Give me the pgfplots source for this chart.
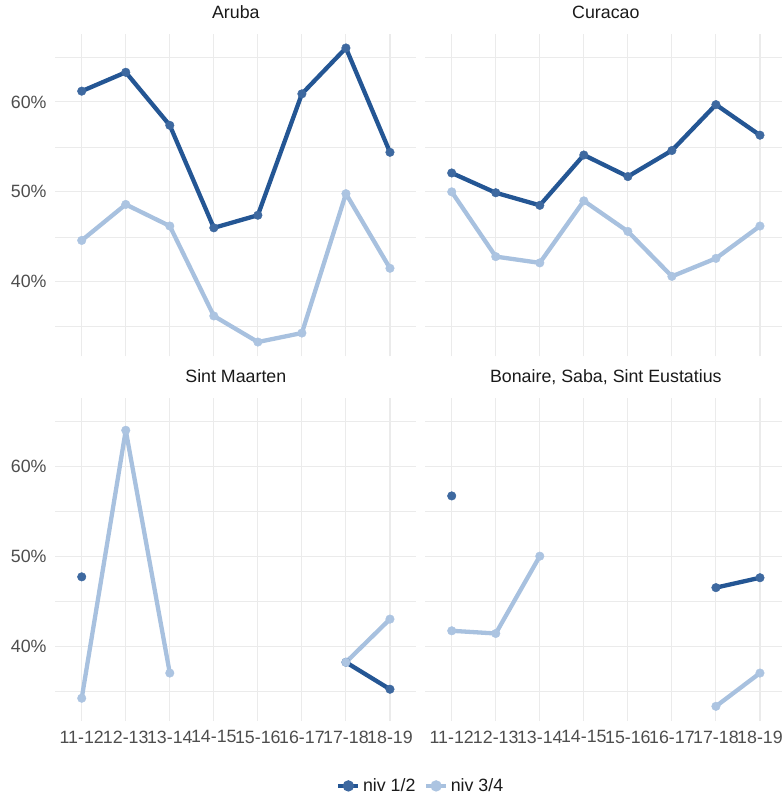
\documentclass[border=0pt]{standalone}
\usepackage{fontspec}
\setmainfont{Liberation Sans}
\usepackage{pgfplots}
\pgfplotsset{compat=1.18}
\definecolor{dk}{RGB}{36,86,148}
\definecolor{lt}{RGB}{168,193,223}
\definecolor{dkp}{RGB}{62,105,160}
\definecolor{ltp}{RGB}{172,196,225}
\definecolor{gridc}{RGB}{235,235,235}
\definecolor{txt}{RGB}{77,77,77}
\definecolor{ttl}{RGB}{26,26,26}
\newcommand\tf{\fontsize{17.8}{21}\selectfont}
\pgfplotsset{
  facet/.style={
    scale only axis, width=361.1pt, height=322.8pt,
    xmin=0.4, xmax=8.6, ymin=31.7, ymax=67.6,
    axis line style={draw=none}, major tick length=0pt, minor tick length=0pt,
    xtick={1,2,3,4,5,6,7,8}, ytick={40,50,60}, minor ytick={35,45,55,65},
    grid=both,
    major grid style={gridc, line width=1.1pt},
    minor grid style={gridc, line width=0.6pt},
    xticklabels={}, yticklabels={},
    unbounded coords=jump,
    title style={font=\tf, text=ttl, anchor=base, at={(0.5,1)}, yshift=9pt, inner sep=0pt},
    tick label style={font=\tf, text=txt},
    yticklabel style={anchor=east, inner sep=0pt, xshift=-8.6pt},
    xticklabel style={anchor=north, inner sep=0pt, yshift=-9.8pt},
    /pgf/number format/assume math mode=true,
  },
  dkline/.style={color=dk, line width=4.3pt, no markers, line join=round, forget plot},
  ltline/.style={color=lt, line width=4.3pt, no markers, line join=round, forget plot},
  dkpt/.style={only marks, mark=*, color=dkp, mark size=4.3pt, forget plot},
  ltpt/.style={only marks, mark=*, color=ltp, mark size=4.3pt, forget plot},
  withx/.style={xticklabels={11-12,12-13,13-14,14-15,15-16,16-17,17-18,18-19}},
  withy/.style={yticklabels={40\%,50\%,60\%}},
}
\begin{document}
\begin{tikzpicture}
% Aruba
\begin{axis}[facet, withy, at={(55.3pt,-356.4pt)}, anchor=south west, title={Aruba}]
\addplot[dkline] coordinates {(1,61.2) (2,63.3) (3,57.4) (4,46.0) (5,47.4) (6,60.9) (7,66.0) (8,54.4)};
\addplot[ltline] coordinates {(1,44.6) (2,48.6) (3,46.2) (4,36.2) (5,33.3) (6,34.3) (7,49.8) (8,41.5)};
\addplot[dkpt] coordinates {(1,61.2) (2,63.3) (3,57.4) (4,46.0) (5,47.4) (6,60.9) (7,66.0) (8,54.4)};
\addplot[ltpt] coordinates {(1,44.6) (2,48.6) (3,46.2) (4,36.2) (5,33.3) (6,34.3) (7,49.8) (8,41.5)};
\end{axis}
% Curacao
\begin{axis}[facet, at={(425.3pt,-356.4pt)}, anchor=south west, title={Curacao}]
\addplot[dkline] coordinates {(1,52.1) (2,49.9) (3,48.5) (4,54.1) (5,51.7) (6,54.6) (7,59.7) (8,56.3)};
\addplot[ltline] coordinates {(1,50.0) (2,42.8) (3,42.1) (4,49.0) (5,45.6) (6,40.6) (7,42.6) (8,46.2)};
\addplot[dkpt] coordinates {(1,52.1) (2,49.9) (3,48.5) (4,54.1) (5,51.7) (6,54.6) (7,59.7) (8,56.3)};
\addplot[ltpt] coordinates {(1,50.0) (2,42.8) (3,42.1) (4,49.0) (5,45.6) (6,40.6) (7,42.6) (8,46.2)};
\end{axis}
% Sint Maarten
\begin{axis}[facet, withy, withx, at={(55.3pt,-720.7pt)}, anchor=south west, title={Sint Maarten},
  legend style={at={(1.0127,-0.202)}, anchor=center, draw=none, fill=none, font=\tf, text=ttl,
    inner sep=0pt, nodes={inner sep=2.5pt}, /tikz/every even column/.append style={column sep=6pt}},
  legend columns=2,
  legend image code/.code={\draw[mark repeat=2,mark phase=2,#1] plot coordinates {(0pt,0pt) (10pt,0pt) (20pt,0pt)};}]
\addplot[dkline] coordinates {(1,47.7) (2,nan) (3,nan) (4,nan) (5,nan) (6,nan) (7,38.2) (8,35.2)};
\addplot[ltline] coordinates {(1,34.2) (2,64.0) (3,37.0) (4,nan) (5,nan) (6,nan) (7,38.2) (8,43.0)};
\addplot[dkpt] coordinates {(1,47.7) (7,38.2) (8,35.2)};
\addplot[ltpt] coordinates {(1,34.2) (2,64.0) (3,37.0) (7,38.2) (8,43.0)};
\addlegendimage{color=dk, line width=4.3pt, mark=*, mark size=3.4pt, mark options={color=dkp}}
\addlegendentry{niv 1/2}
\addlegendimage{color=lt, line width=4.3pt, mark=*, mark size=3.4pt, mark options={color=ltp}}
\addlegendentry{niv 3/4}
\end{axis}
% Bonaire, Saba, Sint Eustatius
\begin{axis}[facet, withx, at={(425.3pt,-720.7pt)}, anchor=south west, title={Bonaire, Saba, Sint Eustatius}]
\addplot[dkline] coordinates {(1,56.7) (2,nan) (3,nan) (4,nan) (5,nan) (6,nan) (7,46.5) (8,47.6)};
\addplot[ltline] coordinates {(1,41.7) (2,41.4) (3,50.0) (4,nan) (5,nan) (6,nan) (7,33.3) (8,37.0)};
\addplot[dkpt] coordinates {(1,56.7) (7,46.5) (8,47.6)};
\addplot[ltpt] coordinates {(1,41.7) (2,41.4) (3,50.0) (7,33.3) (8,37.0)};
\end{axis}
\pgfresetboundingbox
\path[use as bounding box] (0pt,0pt) rectangle (782pt,-796pt);
\end{tikzpicture}
\end{document}
